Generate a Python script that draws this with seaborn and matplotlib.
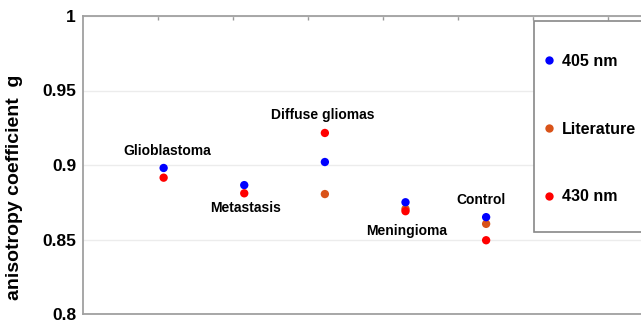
import numpy as np
import pandas as pd
import matplotlib
matplotlib.use("Agg")
import matplotlib.pyplot as plt
import matplotlib.patches as mpatches
import seaborn as sns

# anisotropy coefficient g per tissue type
tissues = ["Glioblastoma", "Metastasis", "Diffuse gliomas", "Meningioma", "Control"]
g_405 = [0.898, 0.8865, 0.902, 0.875, 0.865]
g_lit = [np.nan, np.nan, 0.8805, 0.8705, 0.8605]
g_430 = [0.8915, 0.881, 0.9215, 0.869, 0.8495]
series = ["405 nm", "Literature", "430 nm"]
colors = {"405 nm": "#0000ff", "Literature": "#d95319", "430 nm": "#ff0000"}

# where each tissue sits on the x axis (the axis ticks are at 1..7)
spacing = 1.075
xpos = {t: spacing * (i + 1) for i, t in enumerate(tissues)}

df = pd.concat([
    pd.DataFrame({"tissue": tissues, "series": "Literature", "g": g_lit}),
    pd.DataFrame({"tissue": tissues, "series": "405 nm", "g": g_405}),
    pd.DataFrame({"tissue": tissues, "series": "430 nm", "g": g_430}),
]).dropna()
df["x"] = df["tissue"].map(xpos)

sns.set_theme(style="white")
plt.rcParams["font.family"] = ["Liberation Sans", "DejaVu Sans"]
plt.rcParams["font.weight"] = "bold"
plt.rcParams["text.color"] = "black"
plt.rcParams["axes.labelcolor"] = "black"
plt.rcParams["ytick.color"] = "black"

fig = plt.figure(figsize=(6.41, 3.22), dpi=100)
ax = fig.add_axes([83 / 641, 8 / 322, 600 / 641, 298 / 322])

sns.scatterplot(data=df, x="x", y="g", hue="series", hue_order=series,
                palette=colors, s=36, linewidth=0, ax=ax, zorder=3)

ax.set_xlim(0, 8)
ax.set_ylim(0.8, 1.0)
ax.set_xticks(np.arange(1, 8))
ax.set_xticklabels([])
ax.set_yticks([0.8, 0.85, 0.9, 0.95, 1.0])
ax.set_yticklabels(["0.8", "0.85", "0.9", "0.95", "1"], fontsize=12.5,
                   fontweight="bold", color="black")
ax.tick_params(axis="x", direction="in", length=3, color="#999999", width=1,
               top=True, bottom=False, labelbottom=False)
ax.tick_params(axis="y", pad=5, length=0, labelcolor="black")
ax.grid(axis="y", color="#ececec", linewidth=1)
for sp in ax.spines.values():
    sp.set_color("#a0a0a0")
    sp.set_linewidth(1.3)

ax.set_xlabel("")
ax.set_ylabel("anisotropy coefficient  g", fontsize=14, fontweight="bold",
              color="black")
ax.yaxis.set_label_coords(23 / 641, 135 / 322, transform=fig.transFigure)

# tissue labels next to their points
label_pos = {
    "Glioblastoma": (1.12, 0.9093),
    "Metastasis": (2.17, 0.8713),
    "Diffuse gliomas": (3.2, 0.9333),
    "Meningioma": (4.32, 0.856),
    "Control": (5.31, 0.8767),
}
for t, (lx, ly) in label_pos.items():
    ax.text(lx, ly, t, ha="center", va="center", fontsize=10, fontweight="bold",
            color="black")

# legend entries without frame, box drawn separately (runs off the right edge)
sns.move_legend(ax, "upper left", bbox_to_anchor=(544 / 641, 1 - 54 / 322),
                bbox_transform=fig.transFigure, title=None, frameon=False,
                labelspacing=3.3, borderpad=0, handlelength=0.6,
                handletextpad=0.5, borderaxespad=0,
                prop={"weight": "bold", "size": 11.5})
leg = ax.get_legend()
for h in leg.legend_handles:
    h.set_markersize(6)
for txt in leg.get_texts():
    txt.set_color("black")
leg.set_zorder(10)

box = mpatches.Rectangle((534 / 641, 1 - 232 / 322), 200 / 641, 211 / 322,
                         transform=fig.transFigure, facecolor="white",
                         edgecolor="#888888", linewidth=1.2, zorder=6,
                         clip_on=False)
ax.add_patch(box)

fig.savefig("out.png", dpi=100)
